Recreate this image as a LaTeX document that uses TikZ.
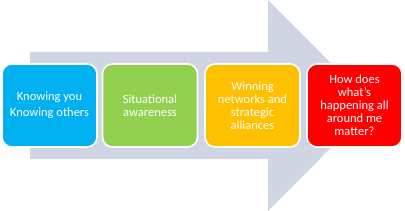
\documentclass[tikz,border=0pt]{standalone}
\usepackage{fontspec}
\setmainfont{Carlito}
\definecolor{arrowgray}{HTML}{CFD5E3}
\definecolor{cblue}{HTML}{00B0F0}
\definecolor{cgreen}{HTML}{92D050}
\definecolor{corange}{HTML}{FFC000}
\definecolor{cred}{HTML}{FF0000}
\begin{document}
\begin{tikzpicture}[x=1pt,y=1pt,
  stagebox/.style={draw=white, line width=1.6pt, rounded corners=10pt,
    minimum width=95pt, minimum height=83pt, inner sep=0pt,
    text=white, align=center, font=\fontsize{12.5}{13}\selectfont}]
\useasboundingbox (0,0) rectangle (405,211);
\fill[arrowgray] (30,159) -- (268,159) -- (268,211) -- (373,105.5) -- (268,0) -- (268,52) -- (30,52) -- cycle;
\node[stagebox, fill=cblue] (a) at (49.5,105.5) {Knowing you\\[3.5pt]Knowing others};
\node[stagebox, fill=cgreen] (b) at (150,105.5) {Situational\\awareness};
\node[stagebox, fill=corange] (c) at (252.5,105.5) {Winning\\networks and\\strategic\\alliances};
\node[stagebox, fill=cred] (d) at (354.5,105.5) {How does\\what’s\\happening all\\around me\\matter?};
\end{tikzpicture}
\end{document}
